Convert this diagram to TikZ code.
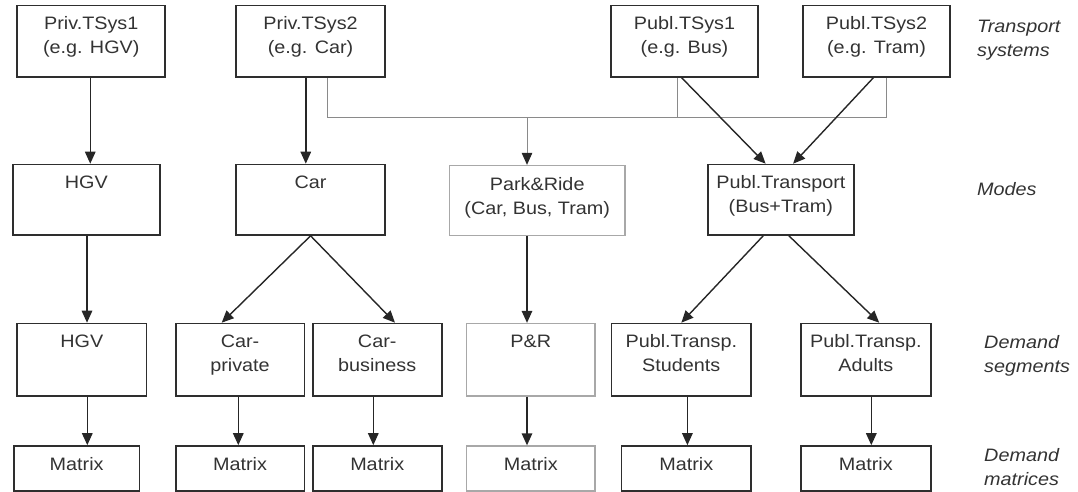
\documentclass[tikz,border=0pt]{standalone}
\usepackage{fontspec}
\setmainfont{Liberation Sans}[FakeStretch=1.1]
\usetikzlibrary{arrows.meta}
\definecolor{txtc}{HTML}{333333}
\definecolor{boxc}{HTML}{2E2E2E}
\definecolor{lightc}{HTML}{A8A8A8}
\definecolor{grayln}{HTML}{8A8A8A}
\tikzset{
  boxnode/.style={draw=boxc, line width=1.6pt, inner sep=0pt, fill=white},
  lightbox/.style={draw=lightc, line width=1.3pt, inner sep=0pt, fill=white},
  txt/.style={inner sep=0pt, align=center, text=txtc, font=\fontsize{18}{24}\selectfont, anchor=north},
  lbl/.style={inner sep=0pt, align=left, text=txtc, font=\fontsize{18}{24}\selectfont\itshape, anchor=north west},
  arr/.style={draw=black!85, line width=1.4pt, -{Triangle[length=12pt,width=10.5pt]}},
  thinln/.style={draw=grayln, line width=1pt},
  thinarr/.style={draw=grayln, line width=1pt, -{Triangle[length=12pt,width=10.5pt,color=black!85]}},
}
\newcommand{\bx}[6]{\node[#1, minimum width=#5pt, minimum height=#6pt] (#2) at (#3,#4) {};}
\begin{document}
\begin{tikzpicture}[x=1pt,y=-1pt]
\useasboundingbox (0,0) rectangle (1078,492);
% Row 1: transport systems (y 5.5--77)
\bx{boxnode}{ts1}{91.25}{41.25}{148}{71.5}
\bx{boxnode}{ts2}{310.6}{41.25}{148.8}{71.5}
\bx{boxnode}{pts1}{684.5}{41.25}{147}{71.5}
\bx{boxnode}{pts2}{876.5}{41.25}{147}{71.5}
% Row 2: modes (y 164.5--235)
\bx{boxnode}{hgv}{86.4}{199.75}{147.4}{70.5}
\bx{boxnode}{car}{310.6}{199.75}{148.8}{70.5}
\bx{lightbox}{pr}{537.2}{200.5}{175.7}{70}
\bx{boxnode}{pt}{780.9}{199.75}{146.3}{70.5}
% Row 3: demand segments (y 323.5--396)
\bx{boxnode}{hgvs}{81.8}{359.75}{129.2}{72.5}
\bx{boxnode}{cp}{240}{359.75}{128.6}{72.5}
\bx{boxnode}{cb}{377.2}{359.75}{129}{72.5}
\bx{lightbox}{prs}{530.8}{359.75}{128.4}{72.5}
\bx{boxnode}{sts}{681.3}{359.75}{139.4}{72.5}
\bx{boxnode}{ads}{865.8}{359.75}{130.1}{72.5}
% Row 4: matrices (y 446--491)
\bx{boxnode}{hgvm}{76.65}{468.5}{125.7}{45}
\bx{boxnode}{cpm}{240}{468.5}{128.6}{45}
\bx{boxnode}{cbm}{377.2}{468.5}{129}{45}
\bx{lightbox}{prm}{530.8}{468.5}{128.4}{45}
\bx{boxnode}{stm}{686.3}{468.5}{129.4}{45}
\bx{boxnode}{adm}{865.8}{468.5}{130.1}{45}
% texts
\node[txt] (ts1t) at ([yshift=-12]ts1.north) {Priv.TSys1\\(e.g. HGV)};
\node[txt] (ts2t) at ([yshift=-12]ts2.north) {Priv.TSys2\\(e.g. Car)};
\node[txt] (pts1t) at ([yshift=-12]pts1.north) {Publ.TSys1\\(e.g. Bus)};
\node[txt] (pts2t) at ([yshift=-12]pts2.north) {Publ.TSys2\\(e.g. Tram)};
\node[txt] (hgvt) at ([yshift=-12]hgv.north) {HGV};
\node[txt] (cart) at ([yshift=-12]car.north) {Car};
\node[txt] (prt) at ([yshift=-12]pr.north) {Park\&Ride\\(Car, Bus, Tram)};
\node[txt] (ptt) at ([yshift=-12]pt.north) {Publ.Transport\\(Bus+Tram)};
\node[txt] (hgvst) at ([yshift=-12]hgvs.north) {HGV};
\node[txt] (cpt) at ([yshift=-12]cp.north) {Car-\\private};
\node[txt] (cbt) at ([yshift=-12]cb.north) {Car-\\business};
\node[txt] (prst) at ([yshift=-12]prs.north) {P\&R};
\node[txt] (stst) at ([yshift=-12]sts.north) {Publ.Transp.\\Students};
\node[txt] (adst) at ([yshift=-12]ads.north) {Publ.Transp.\\Adults};
\foreach \m in {hgvm,cpm,cbm,prm,stm,adm}{
  \node[txt] (\m t) at ([yshift=-12]\m.north) {Matrix};
}
% side labels
\node[lbl] (l1) at (977,19.8) {Transport\\systems};
\node[lbl] (l2) at (977,181.8) {Modes};
\node[lbl] (l3) at (984,334.8) {Demand\\segments};
\node[lbl] (l4) at (984,447.8) {Demand\\matrices};
% gray bus connector
\coordinate (bus) at (0,117.3);
\draw[thinln] ([xshift=16.9]ts2.south) |- ([xshift=9.5]pts2.south |- bus) -- ([xshift=9.5]pts2.south);
\draw[thinln] ([xshift=-6.8]pts1.south) -- ([xshift=-6.8]pts1.south |- bus);
\draw[thinarr] ([xshift=-10.2]pr.north |- bus) -- ([xshift=-10.2]pr.north);
% vertical arrows
\draw[arr] ([xshift=-1]ts1.south) -- ([xshift=-1]ts1.south |- hgv.north);
\draw[arr] ([xshift=-4.8]ts2.south) -- ([xshift=-4.8]ts2.south |- car.north);
\draw[arr] ([xshift=0.6]hgv.south) -- ([xshift=0.6]hgv.south |- hgvs.north);
\draw[arr] ([xshift=-10.2]pr.south) -- ([xshift=-10.2]pr.south |- prs.north);
\draw[arr] ([xshift=5.5]hgvs.south) -- ([xshift=5.5]hgvs.south |- hgvm.north);
\draw[arr] ([xshift=-1.7]cp.south) -- ([xshift=-1.7]cp.south |- cpm.north);
\draw[arr] ([xshift=-3.9]cb.south) -- ([xshift=-3.9]cb.south |- cbm.north);
\draw[arr] ([xshift=-3.8]prs.south) -- ([xshift=-3.8]prs.south |- prm.north);
\draw[arr] ([xshift=6.1]sts.south) -- ([xshift=6.1]sts.south |- stm.north);
\draw[arr] ([xshift=5.5]ads.south) -- ([xshift=5.5]ads.south |- adm.north);
% diagonal arrows
\draw[arr] ([xshift=-2.8]pts1.south) -- ([xshift=-15.3]pt.north);
\draw[arr] ([xshift=-3.2]pts2.south) -- ([xshift=12.2]pt.north);
\draw[arr] (car.south) -- ([xshift=-18.3]cp.north);
\draw[arr] (car.south) -- ([xshift=17.8]cb.north);
\draw[arr] ([xshift=-17.7]pt.south) -- (sts.north);
\draw[arr] ([xshift=8]pt.south) -- ([xshift=13.4]ads.north);
\end{tikzpicture}
\end{document}
